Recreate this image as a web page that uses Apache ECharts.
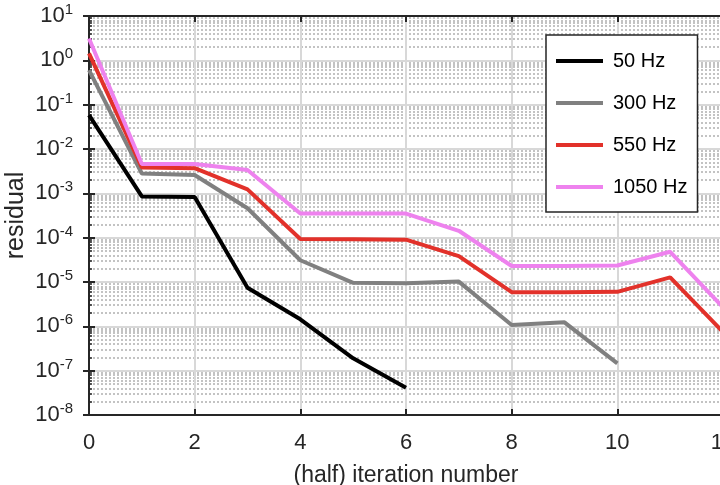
<!DOCTYPE html>
<html>
<head>
<meta charset="utf-8">
<script src="https://cdn.jsdelivr.net/npm/echarts@6/dist/echarts.min.js"></script>
<style>
  html, body { margin: 0; padding: 0; background: #fff; }
  #chart { width: 720px; height: 485px; }
</style>
</head>
<body>
<div id="chart"></div>
<script>
// half iteration index
const iterations = [0, 1, 2, 3, 4, 5, 6, 7, 8, 9, 10, 11, 12]

// residual per frequency
const res50 = [0.058, 8.5e-4, 8.3e-4, 7.4e-6, 1.44e-6, 1.9e-7, 4.1e-8]
const res300 = [0.6, 2.8e-3, 2.6e-3, 4.6e-4, 3.1e-5, 9.6e-6, 9.4e-6, 1.02e-5, 1.07e-6, 1.23e-6, 1.46e-7]
const res550 = [1.44, 3.85e-3, 3.7e-3, 1.23e-3, 9.3e-5, 9.2e-5, 9.0e-5, 3.85e-5, 5.9e-6, 5.9e-6, 6.0e-6, 1.27e-5, 7.5e-7]
const res1050 = [3.1, 4.6e-3, 4.6e-3, 3.36e-3, 3.5e-4, 3.5e-4, 3.5e-4, 1.43e-4, 2.3e-5, 2.3e-5, 2.35e-5, 4.8e-5, 2.7e-6]

const seriesNames = ['50 Hz', '300 Hz', '550 Hz', '1050 Hz']
const seriesColors = ['#000000', '#808080', '#e2312a', '#ee82ee']
const seriesValues = [res50, res300, res550, res1050]

const textColor = '#262626'
const fontFamily = '"Liberation Sans", Arial, sans-serif'

const chart = echarts.init(document.getElementById('chart'))

// shared axis look (MATLAB-style box)
const axisLineStyle = { lineStyle: { color: textColor, width: 2 } }

const option = {
  animation: false,
  backgroundColor: '#fff',
  textStyle: { fontFamily: fontFamily },
  grid: { left: 89, top: 16, right: -3, bottom: 70, outerBoundsMode: 'none', containLabel: false },
  legend: {
    data: seriesNames,
    orient: 'vertical',
    left: 546,
    top: 35,
    padding: [16, 10, 15, 10],
    itemGap: 22,
    itemWidth: 47,
    itemHeight: 4,
    icon: 'rect',
    backgroundColor: '#fff',
    borderColor: textColor,
    borderWidth: 1.5,
    textStyle: { fontSize: 20, color: '#000', lineHeight: 20, padding: [0, 0, 0, 5], fontFamily: fontFamily }
  },
  xAxis: [
    {
      type: 'value',
      min: 0,
      max: 12,
      interval: 2,
      name: '(half) iteration number',
      nameLocation: 'middle',
      nameGap: 49,
      nameMoveOverlap: false,
      nameTextStyle: { fontSize: 23, color: textColor, fontFamily: fontFamily },
      axisLine: axisLineStyle,
      axisTick: { inside: true, length: 6, lineStyle: { color: textColor, width: 2 } },
      axisLabel: { fontSize: 22, color: textColor, margin: 17, hideOverlap: false, showMaxLabel: true },
      splitLine: { show: true, lineStyle: { color: '#d8d8d8', width: 2 } }
    },
    {
      type: 'value',
      position: 'top',
      min: 0,
      max: 12,
      interval: 2,
      axisLine: axisLineStyle,
      axisTick: { inside: true, length: 6, lineStyle: { color: textColor, width: 2 } },
      axisLabel: { show: false },
      splitLine: { show: false }
    }
  ],
  yAxis: [
    {
      type: 'log',
      logBase: 10,
      min: 1e-8,
      max: 10,
      name: 'residual',
      nameLocation: 'middle',
      nameGap: 60,
      nameMoveOverlap: false,
      nameTextStyle: { fontSize: 25, color: textColor, fontFamily: fontFamily },
      axisLine: axisLineStyle,
      axisTick: { inside: true, length: 6, lineStyle: { color: textColor, width: 2 } },
      minorTick: { show: true, splitNumber: 9, length: 3, lineStyle: { color: textColor, width: 1.5 } },
      minorSplitLine: { show: true, lineStyle: { color: '#b0b0b0', width: 1.5, type: [2, 2] } },
      splitLine: { show: true, lineStyle: { color: '#d8d8d8', width: 2 } },
      axisLabel: {
        margin: 16,
        formatter: function (v) {
          const e = Math.round(Math.log10(v))
          return '{b|10}{s|' + e + '}'
        },
        rich: {
          b: { fontSize: 22, color: textColor, fontFamily: fontFamily },
          s: { fontSize: 15, color: textColor, fontFamily: fontFamily, padding: [0, 0, 12, 0] }
        }
      }
    },
    {
      type: 'log',
      logBase: 10,
      min: 1e-8,
      max: 10,
      position: 'right',
      axisLine: axisLineStyle,
      axisTick: { inside: true, length: 6, lineStyle: { color: textColor, width: 2 } },
      axisLabel: { show: false },
      splitLine: { show: false }
    }
  ],
  series: seriesNames.map((name, i) => ({
    name: name,
    type: 'line',
    xAxisIndex: 0,
    yAxisIndex: 0,
    data: seriesValues[i].map((v, j) => [iterations[j], v]),
    showSymbol: false,
    symbol: 'none',
    color: seriesColors[i],
    lineStyle: { color: seriesColors[i], width: 4 },
    z: 3 + i
  }))
}

chart.setOption(option)
</script>
</body>
</html>
